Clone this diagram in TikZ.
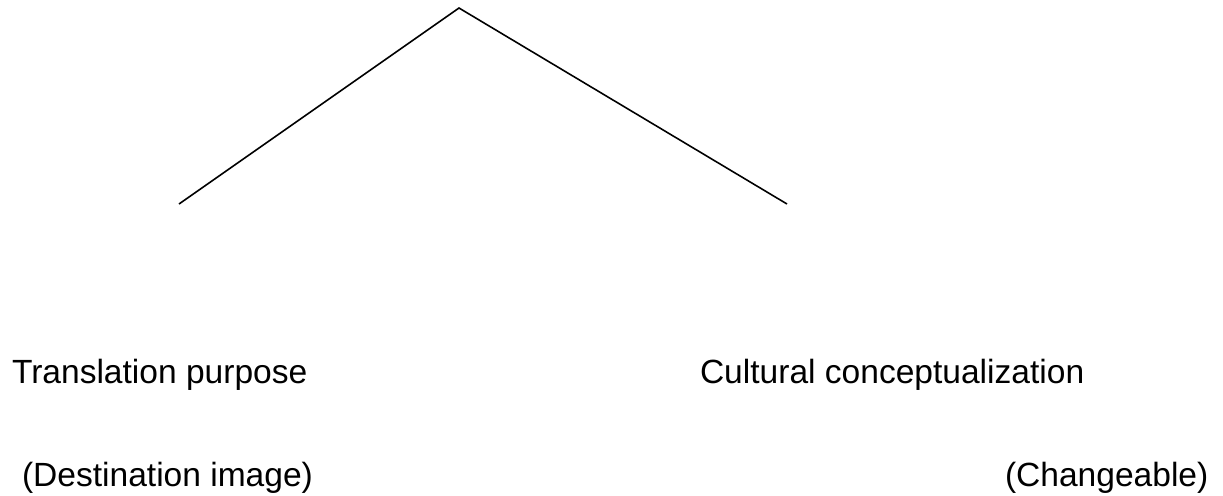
\documentclass[tikz,border=0pt]{standalone}
\usepackage{fontspec}
\setmainfont{Liberation Sans}
\begin{document}
\begin{tikzpicture}[x=0.02cm,y=-0.02cm,
  lbl/.style={anchor=base west,inner sep=0pt,outer sep=0pt,font=\fontsize{19.1pt}{23pt}\selectfont},
  branch/.style={line width=0.9pt,black}]
\useasboundingbox (0,0) rectangle (1223,495);
\coordinate (apex) at (459,8);
\coordinate (lend) at (179,204);
\coordinate (rend) at (787,204);
\draw[branch] (lend) -- (apex) -- (rend);
\node[lbl] (tp) at (12,383) {Translation purpose};
\node[lbl] (cc) at (700,383) {Cultural conceptualization};
\node[lbl] (di) at (22,486) {(Destination image)};
\node[lbl] (ch) at (1005,486) {(Changeable)};
\end{tikzpicture}
\end{document}
